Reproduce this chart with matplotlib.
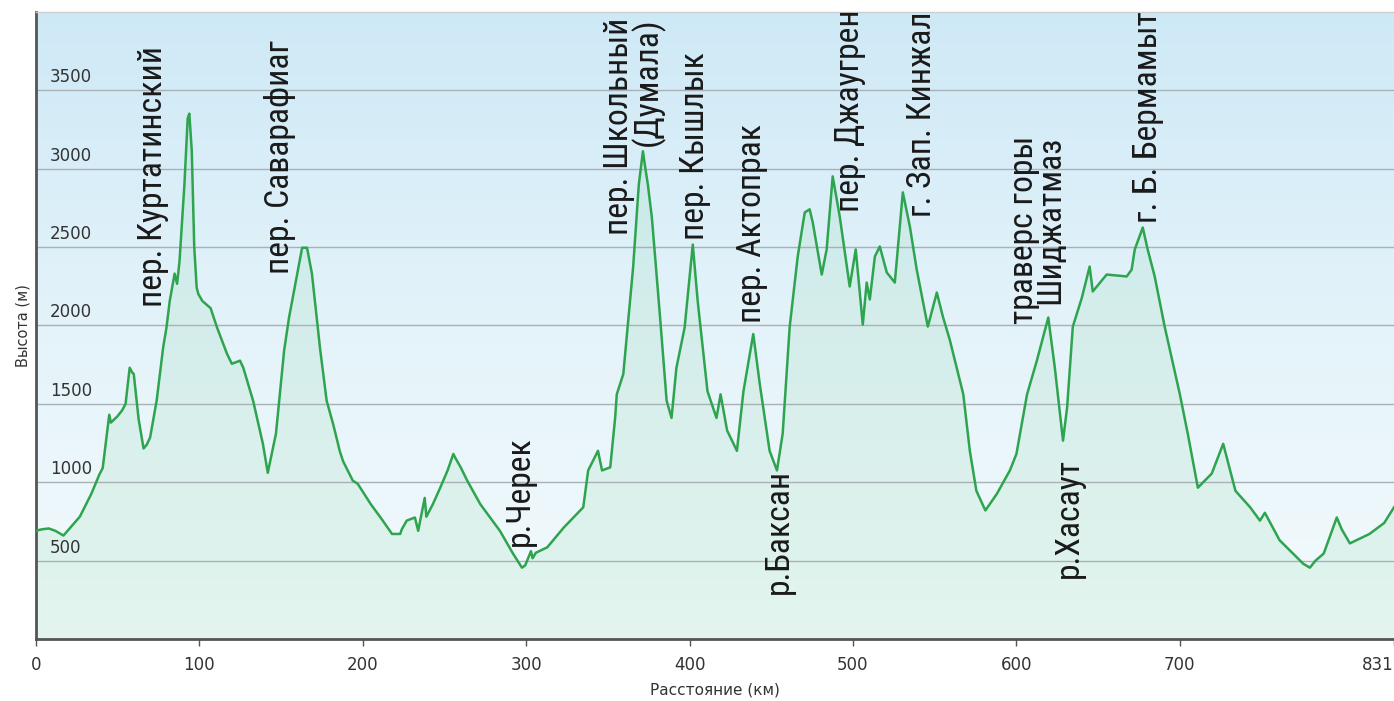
import numpy as np
import matplotlib
matplotlib.use("Agg")
import matplotlib.pyplot as plt
from matplotlib import font_manager
from matplotlib.transforms import offset_copy

# distance along the route (km) and elevation (m)
km = [0, 4, 8, 12, 17, 22, 27, 34, 39, 41, 43.5, 45, 46, 50, 53, 55, 57.5, 59, 60, 63,
      66, 68, 70, 74, 78, 80, 82, 85, 86.5, 88, 91, 93, 94, 95.5, 97, 98.5, 99.5, 102, 107, 111,
      117, 120, 125, 127, 133, 139, 142, 147, 152, 155, 160, 163, 166, 169, 174, 178, 182, 186, 188, 194,
      197, 205, 212, 218, 223, 224, 227, 232, 234, 238, 239, 243, 247.5, 252, 255.5, 257, 260, 264, 272, 284,
      292, 297.5, 299.5, 303, 304, 306, 313, 323, 335, 338, 344, 346.5, 351.5, 354.5, 355.5, 359.5, 365.5, 369, 371.5, 373,
      374.5, 377, 382, 386, 389, 392, 397, 400, 402, 405, 411, 416.5, 419, 423, 429, 433, 439, 443, 449, 453.5,
      457, 461.3, 466.2, 470.5, 473.5, 475.4, 480.9, 483.9, 487.6, 491.9, 498, 501.7, 506, 508.4, 510.3, 513.4, 516.4, 520.7, 525.6, 530.5,
      534.8, 539, 545.8, 551.3, 555, 559.2, 567.5, 571.5, 575.5, 581, 588, 596, 600, 606.5, 612.5, 619.5, 623.5, 628.5, 631, 634.5,
      640, 644.8, 646.7, 655.2, 667.5, 670.5, 672.4, 677.3, 680.3, 684.6, 690.7, 700, 705, 711, 719.5, 726.5, 734, 743, 749, 752,
      761, 775.5, 779.5, 783, 788, 796, 799, 804, 816, 825, 831]
elev = [690, 700, 705, 690, 660, 720, 780, 925, 1050, 1090, 1300, 1430, 1380, 1420, 1460, 1500, 1730, 1700, 1690, 1400,
        1215, 1240, 1285, 1520, 1860, 1985, 2155, 2330, 2265, 2410, 2900, 3320, 3350, 3110, 2500, 2240, 2200, 2155, 2110, 1985,
        1820, 1755, 1775, 1730, 1520, 1245, 1060, 1310, 1840, 2050, 2330, 2495, 2495, 2330, 1850, 1520, 1370, 1200, 1135, 1010,
        990, 860, 760, 670, 670, 700, 755, 775, 690, 900, 780, 860, 965, 1075, 1180, 1150, 1095, 1010, 860, 690,
        545, 455, 470, 560, 515, 550, 585, 710, 840, 1075, 1200, 1075, 1095, 1410, 1560, 1690, 2370, 2900, 3110, 3000,
        2900, 2685, 2050, 1520, 1410, 1730, 1985, 2300, 2515, 2155, 1580, 1410, 1560, 1330, 1200, 1580, 1945, 1625, 1200, 1075,
        1310, 1992, 2439, 2720, 2740, 2656, 2324, 2484, 2950, 2695, 2248, 2484, 2005, 2273, 2165, 2439, 2503, 2337, 2273, 2848,
        2631, 2356, 1992, 2209, 2056, 1909, 1560, 1200, 945, 820, 925, 1075, 1180, 1560, 1775, 2050, 1730, 1265, 1475, 1992,
        2175, 2375, 2216, 2324, 2312, 2356, 2484, 2624, 2484, 2312, 1992, 1560, 1300, 965, 1055, 1245, 945, 840, 755, 805,
        630, 480, 455, 500, 545, 775, 700, 610, 670, 740, 840]

# named points along the route
labels = ["пер. Куртатинский", "пер. Саварафиаг", "р.Черек", "пер. Школьный\n(Думала)",
          "пер. Кышлык", "пер. Актопрак", "р.Баксан", "пер. Джаугрен", "г. Зап. Кинжал",
          "траверс горы\nШиджатмаз", "р.Хасаут", "г. Б. Бермамыт"]
label_km = [71.8, 149.4, 296.2, 366.0, 403.2, 438.1, 454.6, 498.0, 542.1, 612.7, 632.0, 680.3]
label_m = [2118, 2328, 594, 3965, 2545, 2014, 287, 2720, 2688, 3206, 386, 2650]
label_va = ["bottom", "bottom", "bottom", "top", "bottom", "bottom", "bottom", "bottom",
            "bottom", "top", "bottom", "bottom"]

xticks = [0, 100, 200, 300, 400, 500, 600, 700, 831]
yticks = [500, 1000, 1500, 2000, 2500, 3000, 3500]

# a narrow face for the labels if one is installed
label_family, label_stretch = "DejaVu Sans", "normal"
for f in font_manager.fontManager.ttflist:
    if f.name in ("Roboto Condensed", "Liberation Sans Narrow", "Open Sans Condensed"):
        label_family, label_stretch = f.name, "normal"
        break
    if f.stretch in ("condensed", "semi-condensed") and f.name in ("DejaVu Sans", "Roboto", "Open Sans", "Noto Sans"):
        label_family, label_stretch = f.name, f.stretch

fig = plt.figure(figsize=(13.94, 7.01), dpi=100)
ax = fig.add_axes([0.0256, 0.0884, 0.9744, 0.8949])

# sky gradient behind the profile
grad = np.linspace(0, 1, 256).reshape(-1, 1)
sky = matplotlib.colors.LinearSegmentedColormap.from_list("sky", ["#f4fbfd", "#e4f3fa", "#cee9f6"])
ax.imshow(grad, extent=[0, 831, 0, 4000], origin="lower", aspect="auto", cmap=sky, zorder=0)

ax.fill_between(km, 0, elev, color="#3dbb5e", alpha=0.09, lw=0, zorder=1)
ax.plot(km, elev, color="#2ea44f", lw=1.8, zorder=3)

ax.set_xlim(0, 831)
ax.set_ylim(0, 4000)
ax.set_yticks(yticks)
ax.yaxis.grid(True, color="#a8b2b6", lw=1)
for gl in ax.get_ygridlines():
    gl.set_zorder(2)
ax.tick_params(axis="y", length=0, labelleft=False)
ylab_tr = offset_copy(ax.get_yaxis_transform(), fig=fig, x=14, y=4, units="dots")
for v in yticks:
    ax.text(0, v, str(v), transform=ylab_tr, ha="left", va="bottom", fontsize=12, color="#333333")

ax.set_xticks(xticks)
ax.set_xticklabels([str(t) for t in xticks], fontsize=12, color="#333333")
ax.get_xticklabels()[-1].set_ha("right")
ax.tick_params(axis="x", length=5, width=1, color="#555555", pad=7)

ax.spines["left"].set_color("#555555")
ax.spines["left"].set_linewidth(2)
ax.spines["bottom"].set_color("#555555")
ax.spines["bottom"].set_linewidth(2)
ax.spines["top"].set_color("#cccccc")
ax.spines["top"].set_linewidth(1)
ax.spines["right"].set_visible(False)

ax.set_xlabel("Расстояние (км)", fontsize=11, color="#333333", labelpad=6)
ax.set_ylabel("Высота (м)", fontsize=10.5, color="#333333", labelpad=4)

texts = []
for text, x, y, va in zip(labels, label_km, label_m, label_va):
    t = ax.text(x, y, text, rotation=90, ha="center", va=va, multialignment="right",
                fontsize=20, linespacing=0.8, color="#1a1a1a",
                family=label_family, stretch=label_stretch, zorder=4)
    texts.append(t)

# size the labels so the first one spans about 260 px like in the source
renderer = fig.canvas.get_renderer()
span = texts[0].get_window_extent(renderer).height
size = 20 * 260.0 / span
for t in texts:
    t.set_fontsize(size)

fig.savefig("out.png", dpi=100)
